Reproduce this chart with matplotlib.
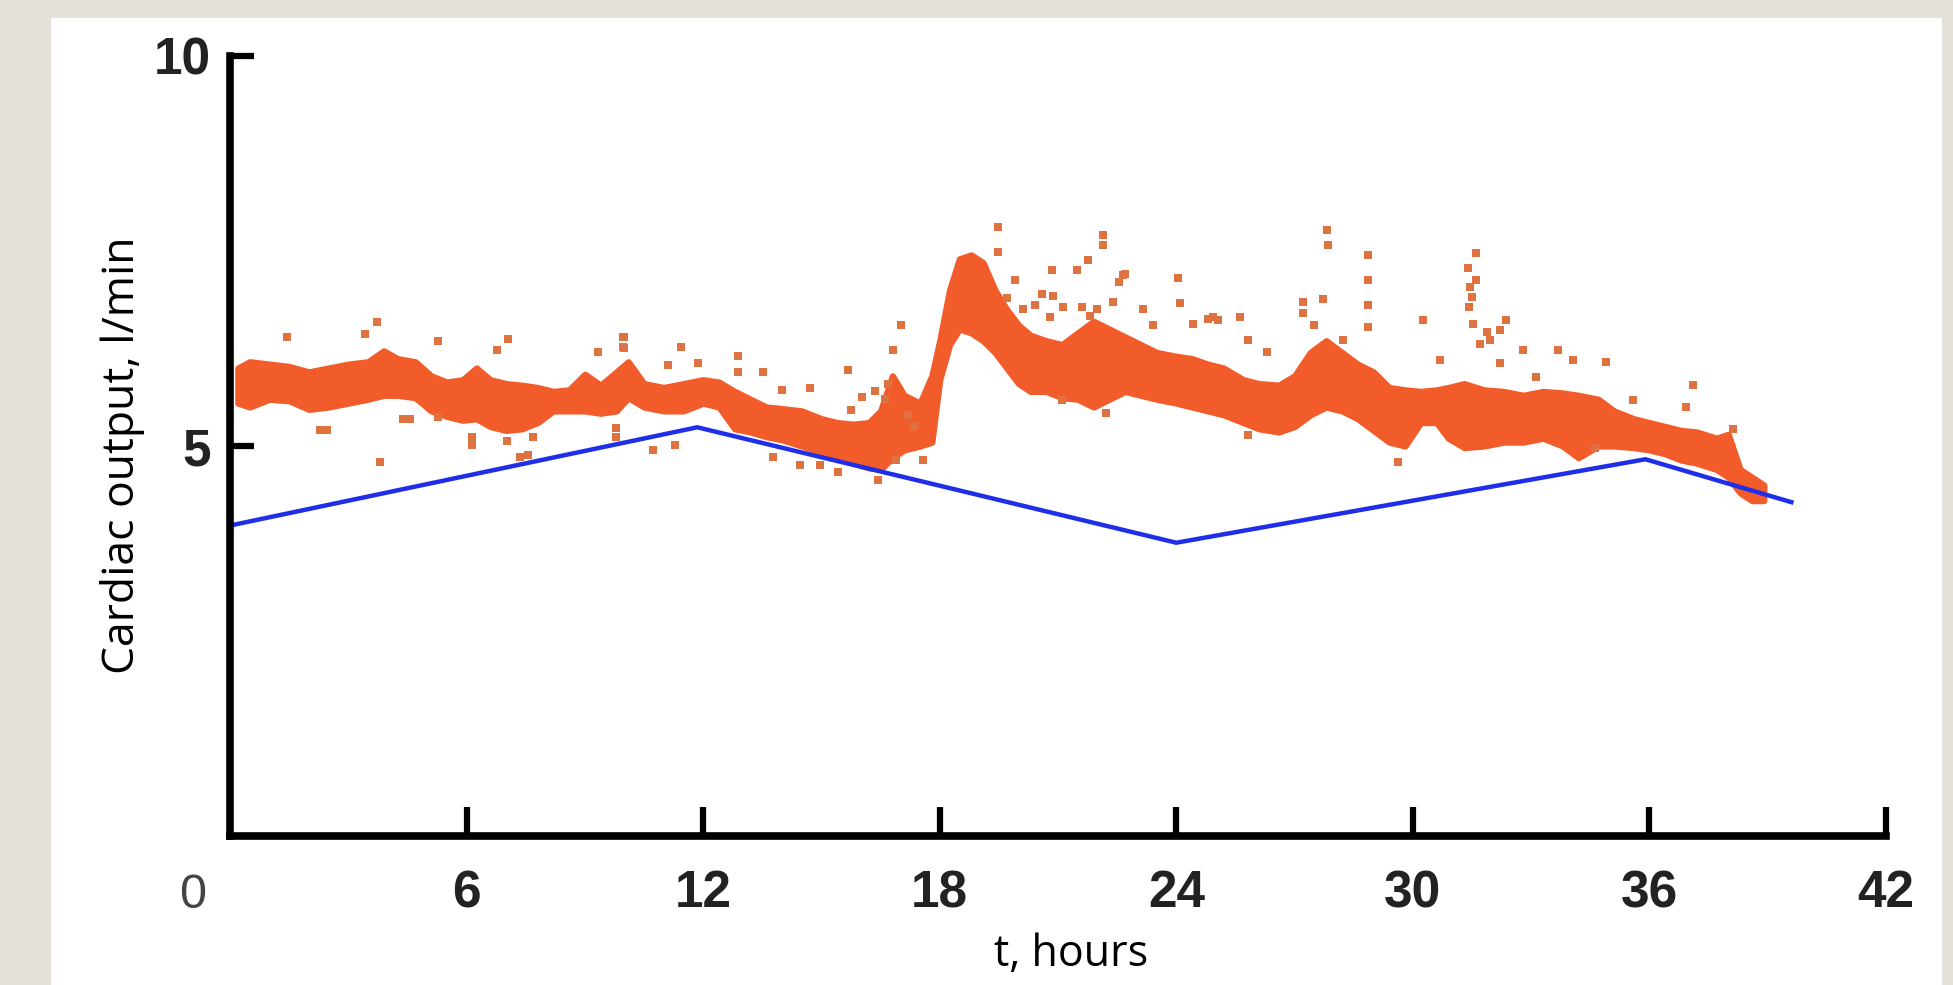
import matplotlib.pyplot as plt
from matplotlib import font_manager
from matplotlib.patches import Rectangle

# dense orange dot cloud, read as lower / upper edge of the band (hours, l/min)
band_t = [0.2, 0.5, 1.0, 1.5, 2.0, 2.5, 3.0, 3.5, 3.9, 4.25, 4.7, 5.1, 5.5, 5.9,
          6.25, 6.6, 7.0, 7.4, 7.8, 8.2, 8.6, 9.0, 9.4, 9.8, 10.1, 10.5, 11.0,
          11.5, 12.0, 12.4, 12.8, 13.2, 13.6, 14.0, 14.5, 15.0, 15.4, 15.8, 16.2,
          16.5, 16.8, 17.1, 17.5, 17.8, 18.0, 18.25, 18.5, 18.8, 19.1, 19.4, 19.7,
          20.0, 20.3, 20.7, 21.1, 21.5, 21.9, 22.3, 22.7, 23.1, 23.5, 24.0, 24.4,
          24.8, 25.2, 25.7, 26.1, 26.6, 27.0, 27.4, 27.8, 28.2, 28.6, 29.0, 29.4,
          29.8, 30.2, 30.6, 30.9, 31.3, 31.8, 32.3, 32.8, 33.3, 33.8, 34.2, 34.7,
          35.1, 35.6, 36.0, 36.4, 36.8, 37.2, 37.7, 38.0, 38.3, 38.6, 38.9]
band_hi = [6.00, 6.08, 6.05, 6.02, 5.95, 6.00, 6.05, 6.08, 6.22, 6.12, 6.08, 5.90, 5.82, 5.85,
           6.00, 5.85, 5.80, 5.78, 5.75, 5.70, 5.72, 5.92, 5.78, 5.95, 6.08, 5.80, 5.75,
           5.80, 5.85, 5.82, 5.70, 5.60, 5.50, 5.48, 5.45, 5.35, 5.30, 5.28, 5.30,
           5.45, 5.90, 5.65, 5.55, 5.90, 6.35, 7.00, 7.40, 7.45, 7.35, 7.00, 6.75,
           6.55, 6.42, 6.35, 6.30, 6.45, 6.60, 6.50, 6.40, 6.30, 6.20, 6.15, 6.12,
           6.05, 6.00, 5.85, 5.80, 5.78, 5.90, 6.20, 6.35, 6.20, 6.05, 5.95, 5.75,
           5.72, 5.70, 5.72, 5.75, 5.80, 5.72, 5.70, 5.65, 5.70, 5.68, 5.65, 5.60,
           5.45, 5.35, 5.30, 5.25, 5.20, 5.18, 5.10, 5.15, 4.70, 4.60, 4.50]
band_lo = [5.55, 5.50, 5.60, 5.58, 5.47, 5.50, 5.55, 5.60, 5.65, 5.65, 5.62, 5.45, 5.38, 5.33,
           5.35, 5.25, 5.20, 5.22, 5.30, 5.45, 5.45, 5.45, 5.42, 5.45, 5.62, 5.50, 5.45,
           5.45, 5.55, 5.50, 5.22, 5.18, 5.12, 5.08, 5.00, 4.92, 4.85, 4.78, 4.72,
           4.70, 4.85, 4.95, 5.00, 5.05, 5.85, 6.30, 6.50, 6.45, 6.35, 6.20, 6.00,
           5.80, 5.70, 5.70, 5.62, 5.60, 5.50, 5.60, 5.70, 5.65, 5.60, 5.55, 5.50,
           5.45, 5.40, 5.30, 5.22, 5.18, 5.25, 5.40, 5.50, 5.45, 5.35, 5.20, 5.05,
           5.00, 5.30, 5.30, 5.10, 4.98, 5.00, 5.05, 5.05, 5.10, 5.00, 4.85, 5.00,
           5.00, 4.98, 4.95, 4.90, 4.82, 4.78, 4.70, 4.60, 4.40, 4.30, 4.30]

# isolated dots away from the band
dot_t = [1.44, 3.42, 3.72, 5.28, 6.76, 7.06, 9.34, 9.97, 9.97, 2.28, 2.45, 4.40, 4.56,
         5.28, 3.80, 6.13, 6.13, 7.02, 7.69, 7.35, 7.57, 9.80, 9.80,
         10.0, 10.0, 11.12, 11.45, 11.88, 12.89, 12.89, 13.52, 13.99, 14.71, 15.68,
         15.76, 16.02, 16.36, 16.82, 17.03, 19.48, 19.48, 19.90,
         10.74, 11.28, 13.78, 14.45, 14.96, 15.43, 16.44, 16.90, 17.58,
         19.90, 20.41, 20.80, 20.84, 21.47, 21.77, 21.98, 22.15, 22.15, 22.65, 23.16,
         24.05, 24.09, 24.43, 24.80, 25.06, 24.94, 25.61, 25.82, 27.22, 27.22, 27.72,
         27.81, 27.85, 28.23, 28.87, 28.87, 28.87, 28.87,
         21.09, 22.23, 25.82, 29.63,
         30.26, 30.68, 31.40, 31.53, 31.61, 31.61, 31.70, 31.87, 31.95, 32.20, 32.20,
         32.37, 32.80, 33.13, 33.68, 34.07, 34.91, 35.59, 36.94, 37.11, 38.12, 34.62,
         31.45, 31.50, 31.42,
         22.70, 22.55, 21.60, 21.81, 20.88, 21.13, 20.60, 22.40, 23.40, 26.30, 27.50,
         16.60, 16.70, 17.20, 17.35, 19.70, 20.10]
dot_v = [6.40, 6.44, 6.59, 6.34, 6.23, 6.37, 6.21, 6.40, 6.27, 5.21, 5.21, 5.34, 5.34,
         5.37, 4.80, 5.12, 5.01, 5.06, 5.12, 4.86, 4.88, 5.23, 5.12,
         6.40, 6.25, 6.04, 6.27, 6.06, 6.16, 5.95, 5.95, 5.72, 5.74, 5.97,
         5.46, 5.63, 5.70, 6.23, 6.55, 7.81, 7.49, 7.13,
         4.95, 5.01, 4.86, 4.76, 4.76, 4.67, 4.56, 4.82, 4.82,
         7.13, 6.81, 6.66, 7.26, 7.26, 7.38, 6.76, 7.70, 7.58, 7.19, 6.76,
         7.15, 6.83, 6.57, 6.63, 6.61, 6.66, 6.66, 6.36, 6.85, 6.70, 6.89,
         7.77, 7.58, 6.36, 7.45, 7.13, 6.81, 6.53,
         5.59, 5.42, 5.14, 4.80,
         6.61, 6.10, 7.28, 6.57, 7.47, 7.13, 6.31, 6.46, 6.36, 6.49, 6.06,
         6.61, 6.23, 5.89, 6.23, 6.10, 6.08, 5.59, 5.50, 5.78, 5.22, 4.97,
         7.04, 6.91, 6.78,
         7.21, 7.10, 6.78, 6.67, 6.92, 6.78, 6.95, 6.85, 6.55, 6.20, 6.55,
         5.60, 5.80, 5.40, 5.25, 6.90, 6.75]

# blue reference line
ref_t = [0, 11.85, 24.0, 35.9, 39.6]
ref_v = [3.98, 5.24, 3.76, 4.83, 4.28]

x_ticks = [6, 12, 18, 24, 30, 36, 42]
y_ticks = [5, 10]

installed = {f.name for f in font_manager.fontManager.ttflist}
num_font = 'Liberation Sans Narrow' if 'Liberation Sans Narrow' in installed else 'Liberation Sans'
num_size = 42 if num_font == 'Liberation Sans Narrow' else 37
lab_font = 'Open Sans'

W, H = 1953, 985
fig = plt.figure(figsize=(W / 100, H / 100), dpi=100)
fig.patch.set_facecolor('#e4e1da')
# white slide panel
fig.add_artist(Rectangle((51 / W, 0), (1942 - 51) / W, 1 - 18 / H, transform=fig.transFigure,
                         facecolor='white', edgecolor='none', zorder=-5))

ax = fig.add_axes([230 / W, 149 / H, 1656 / W, 780 / H])
ax.set_facecolor('none')

# thick edge on the fill stands in for the fuzzy rim of the dot cloud
ax.fill_between(band_t, band_lo, band_hi, color='#f25b2a', lw=4.5)
ax.scatter(dot_t, dot_v, s=30, marker='s', color='#de7240', linewidths=0)
ax.plot(ref_t, ref_v, color='#1f2ee8', lw=3.2)

ax.set_xlim(0, 42)
ax.set_ylim(0, 10)
for side in ['top', 'right']:
    ax.spines[side].set_visible(False)
for side in ['left', 'bottom']:
    ax.spines[side].set_linewidth(5.5)
    ax.spines[side].set_capstyle('projecting')

ax.set_xticks(x_ticks)
ax.set_yticks(y_ticks)
ax.tick_params(axis='x', direction='in', length=21, width=4.5, pad=24, labelsize=num_size)
ax.tick_params(axis='y', direction='in', length=17, width=4.5, pad=14, labelsize=num_size)
for lab in ax.get_xticklabels() + ax.get_yticklabels():
    lab.set_fontfamily(num_font)
    lab.set_fontweight('bold')
    lab.set_color('#222222')

# the lone "0" sits below-left of the corner
ax.annotate('0', xy=(0, 0), xytext=(-37, -59), textcoords='offset pixels',
            ha='center', va='center', fontsize=num_size - 2, family=num_font, color='#444444')

fig.text(123 / W, 1 - 455 / H, 'Cardiac output, l/min', rotation=90, ha='center', va='center',
         fontsize=32, family=lab_font)
fig.text(1071 / W, 1 - 966 / H, 't, hours', ha='center', va='baseline',
         fontsize=31, family=lab_font)

fig.savefig('out.png', dpi=100, facecolor=fig.get_facecolor())
